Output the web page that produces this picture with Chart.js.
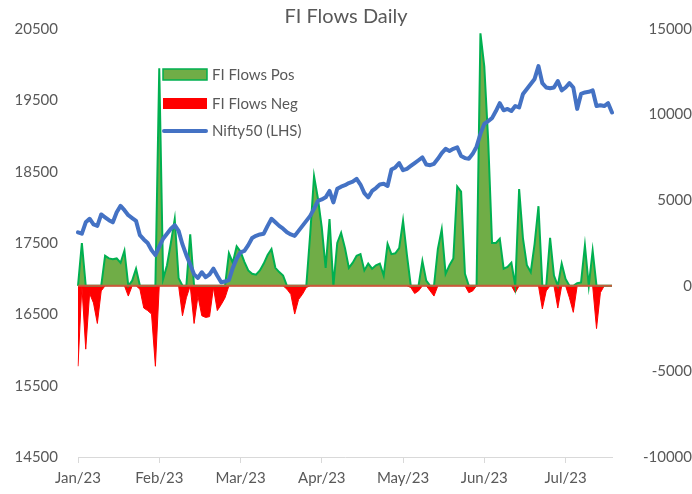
<!DOCTYPE html>
<html>
<head>
<meta charset="utf-8">
<title>FI Flows Daily</title>
<script src="https://cdn.jsdelivr.net/npm/chart.js@4.4.1/dist/chart.umd.min.js"></script>
<style>
  html, body { margin: 0; padding: 0; background: #fff; }
  #wrap { width: 692px; height: 494px; }
</style>
</head>
<body>
<div id="wrap"><canvas id="flowChart" width="692" height="494"></canvas></div>
<script>
// month tick labels, one every 21 trading days
const monthLabels = ['Jan/23', 'Feb/23', 'Mar/23', 'Apr/23', 'May/23', 'Jun/23', 'Jul/23'];
const labelStep = 21;

// Nifty50 daily close (left axis)
const niftyClose = [
  17650, 17630, 17790, 17840, 17760, 17740, 17900, 17860, 17820, 17790,
  17930, 18020, 17960, 17890, 17850, 17810, 17610, 17550, 17500, 17400,
  17330, 17450, 17560, 17630, 17700, 17750, 17670, 17480, 17330, 17200,
  17060, 17010, 17090, 17020, 17060, 17140, 17040, 16950, 16960, 16980,
  17150, 17280, 17370, 17390, 17470, 17570, 17600, 17620, 17630, 17740,
  17840, 17790, 17740, 17700, 17650, 17620, 17600, 17670, 17740, 17810,
  17880, 17980, 18090, 18110, 18140, 18230, 18070, 18260, 18290, 18310,
  18340, 18360, 18400, 18320, 18200, 18140, 18230, 18270, 18320, 18330,
  18300, 18530, 18560, 18620, 18520, 18540, 18580, 18620, 18660, 18700,
  18600, 18590, 18610, 18680, 18760, 18820, 18790, 18820, 18840, 18720,
  18690, 18680, 18750, 18850, 19030, 19170, 19210, 19250, 19350, 19460,
  19360, 19380, 19350, 19420, 19400, 19590, 19660, 19730, 19800, 19980,
  19740, 19680, 19670, 19680, 19770, 19640, 19680, 19740, 19680, 19380,
  19590, 19610, 19620, 19640, 19420, 19430, 19420, 19460, 19330
];

// daily FI flows (right axis)
const fiFlows = [
  -4700, 2500, -3700, -450, -1000, -2200, -300, 1750, 1600, 1550,
  1600, 1350, 2050, -600, 300, 1000, -200, -1300, -1450, -1650,
  -4700, 12700, 400, 1200, 2500, 3900, 450, -1750, -700, 3000,
  -2200, -600, -1750, -1850, -1800, -100, -1450, -1100, -700, 1900,
  1350, 2300, 2000, 1400, 900, 700, 650, 900, 1300, 1800,
  2150, 1050, 800, 600, -200, -500, -1650, -800, -500, -100,
  3000, 6400, 5100, 3400, 1050, 3900, 0, 2500, 3100, 2200,
  1050, 1350, 1750, 1850, 900, 1300, 1000, 1200, 1300, 600,
  2450, 1850, 1900, 2200, 3800, 1800, -100, -450, -300, 1450,
  300, -300, -600, 2150, 3300, 700, 1200, 1600, 5800, 5500,
  700, -400, -300, 0, 14750, 12800, 8500, 2500, 2500, 2750,
  1000, 1100, 1350, -400, 5650, 2750, 1200, 800, 2450, 4650,
  -1350, -300, 2800, 600, -1300, 1300, 400, -700, -1550, 150,
  200, 2350, 0, 2050, -2500, -400, 0, 0, 0
];

const days = niftyClose.map((_, i) => i);
const flowsPos = fiFlows.map(v => Math.max(v, 0));
const flowsNeg = fiFlows.map(v => Math.min(v, 0));

const FONT = 'Lato';
const GREY = '#595959';

const overlay = {
  id: 'overlay',
  beforeDatasetDraw(chart, args) {
    if (args.index !== 2) return;
    const ctx = chart.ctx;
    const area = chart.chartArea;
    const y0 = chart.scales.y1.getPixelForValue(0);
    ctx.save();
    ctx.strokeStyle = '#c65b3a';
    ctx.lineWidth = 2;
    ctx.beginPath();
    ctx.moveTo(area.left, y0);
    ctx.lineTo(area.right, y0);
    ctx.stroke();
    ctx.restore();
  },
  afterDatasetsDraw(chart) {
    const ctx = chart.ctx;
    ctx.save();
    ctx.font = '15px ' + FONT;
    ctx.fillStyle = GREY;
    ctx.textBaseline = 'middle';

    ctx.fillStyle = '#70ad47';
    ctx.fillRect(163, 69, 44, 11);
    ctx.strokeStyle = '#00b050';
    ctx.lineWidth = 1.5;
    ctx.strokeRect(163, 69, 44, 11);

    ctx.fillStyle = '#ff0000';
    ctx.fillRect(163, 98, 44, 11);

    ctx.strokeStyle = '#4472c4';
    ctx.lineWidth = 4;
    ctx.lineCap = 'round';
    ctx.beginPath();
    ctx.moveTo(164, 131);
    ctx.lineTo(206, 131);
    ctx.stroke();

    ctx.fillStyle = GREY;
    ctx.fillText('FI Flows Pos', 212, 75);
    ctx.fillText('FI Flows Neg', 212, 104);
    ctx.fillText('Nifty50 (LHS)', 212, 131);
    ctx.restore();
  }
};

new Chart(document.getElementById('flowChart'), {
  type: 'line',
  data: {
    labels: days,
    datasets: [
      {
        label: 'FI Flows Pos',
        data: flowsPos,
        yAxisID: 'y1',
        order: 1,
        fill: 'origin',
        backgroundColor: '#70ad47',
        borderColor: '#00b050',
        borderWidth: 2,
        pointRadius: 0,
        tension: 0
      },
      {
        label: 'FI Flows Neg',
        data: flowsNeg,
        yAxisID: 'y1',
        order: 2,
        fill: 'origin',
        backgroundColor: '#ff0000',
        borderColor: '#ff0000',
        borderWidth: 1,
        pointRadius: 0,
        tension: 0
      },
      {
        label: 'Nifty50 (LHS)',
        data: niftyClose,
        yAxisID: 'y',
        order: 0,
        fill: false,
        borderColor: '#4472c4',
        borderWidth: 4,
        borderJoinStyle: 'round',
        borderCapStyle: 'round',
        pointRadius: 0,
        tension: 0
      }
    ]
  },
  options: {
    responsive: false,
    devicePixelRatio: 1,
    animation: false,
    layout: { padding: 0 },
    plugins: {
      legend: { display: false },
      tooltip: { enabled: false },
      title: {
        display: true,
        text: 'FI Flows Daily',
        color: GREY,
        font: { family: FONT, size: 20, weight: 'normal' },
        padding: { top: 5, bottom: 0 }
      }
    },
    scales: {
      x: {
        type: 'category',
        offset: false,
        afterFit: s => { s.height = 37; },
        grid: {
          drawOnChartArea: false,
          drawTicks: true,
          tickLength: 6,
          color: c => (c.index % labelStep === 0 ? '#d9d9d9' : 'rgba(0,0,0,0)')
        },
        border: { display: true, color: '#d9d9d9', width: 1 },
        ticks: {
          autoSkip: false,
          maxRotation: 0,
          padding: 6,
          color: GREY,
          font: { family: FONT, size: 15 },
          callback: (v, i) => (i % labelStep === 0 ? monthLabels[i / labelStep] : '')
        }
      },
      y: {
        position: 'left',
        min: 14500,
        max: 20500,
        afterFit: s => { s.width = 78; },
        grid: { display: false, drawTicks: false },
        border: { display: false },
        ticks: {
          stepSize: 1000,
          padding: 20,
          color: GREY,
          font: { family: FONT, size: 15 },
          callback: v => String(v)
        }
      },
      y1: {
        position: 'right',
        min: -10000,
        max: 15000,
        afterFit: s => { s.width = 80; },
        grid: { display: false, drawTicks: false },
        border: { display: false },
        ticks: {
          stepSize: 5000,
          padding: 11,
          crossAlign: 'far',
          color: GREY,
          font: { family: FONT, size: 15 },
          callback: v => String(v)
        }
      }
    }
  },
  plugins: [overlay]
});
</script>
</body>
</html>
